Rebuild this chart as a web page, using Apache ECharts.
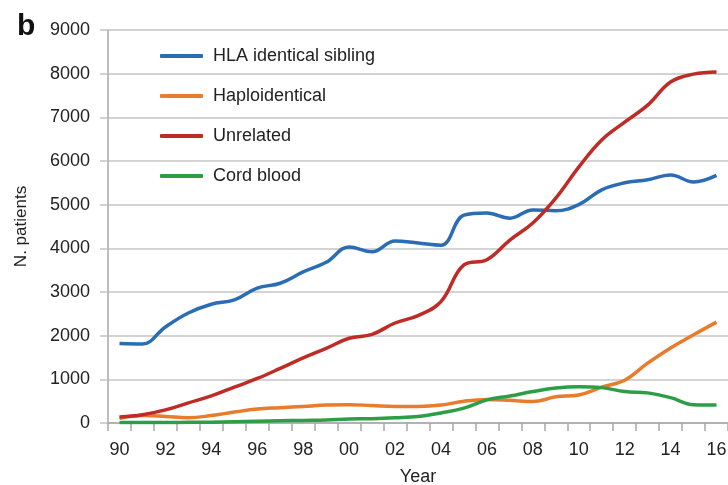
<!DOCTYPE html>
<html>
<head>
<meta charset="utf-8">
<script src="https://cdn.jsdelivr.net/npm/echarts@6/dist/echarts.min.js"></script>
<style>
  html, body { margin: 0; padding: 0; background: #fff; }
  #chart { width: 728px; height: 485px; }
</style>
</head>
<body>
<div id="chart"></div>
<script>
// years 1990..2016 shown as two digits
var years = ["90","91","92","93","94","95","96","97","98","99","00","01","02","03","04","05","06","07","08","09","10","11","12","13","14","15","16"];

var hlaSibling = [1820, 1810, 2200, 2520, 2720, 2820, 3090, 3200, 3460, 3680, 4030, 3920, 4170, 4120, 4070, 4760, 4810, 4690, 4880, 4860, 5000, 5340, 5500, 5570, 5680, 5520, 5670];
var haplo = [110, 170, 150, 120, 170, 250, 320, 350, 380, 410, 420, 400, 380, 380, 410, 500, 540, 520, 490, 600, 640, 820, 980, 1370, 1720, 2020, 2310];
var unrelated = [140, 190, 300, 460, 620, 820, 1020, 1250, 1490, 1710, 1940, 2030, 2290, 2460, 2780, 3620, 3740, 4190, 4580, 5150, 5860, 6480, 6890, 7280, 7810, 7990, 8040];
var cordBlood = [10, 10, 10, 15, 20, 30, 40, 50, 60, 70, 90, 100, 120, 150, 230, 340, 530, 620, 720, 800, 830, 810, 720, 690, 580, 420, 410];

var font = "Liberation Sans";

function mkLine(name, data, color) {
  return {
    name: name,
    type: "line",
    data: data,
    smooth: 0.4,
    symbol: "none",
    lineStyle: { color: color, width: 3.5 },
    itemStyle: { color: color }
  };
}

var chart = echarts.init(document.getElementById("chart"));
chart.setOption({
  animation: false,
  title: {
    text: "b",
    left: 12,
    top: 7,
    textStyle: { fontFamily: font, fontSize: 30, fontWeight: "bold", color: "#111" }
  },
  legend: {
    orient: "vertical",
    left: 155,
    top: 41,
    itemWidth: 43,
    itemHeight: 4,
    itemGap: 20,
    icon: "roundRect",
    textStyle: { fontFamily: font, fontSize: 18, color: "#222", padding: [0, 0, 0, 5], lineHeight: 20 }
  },
  grid: { left: 108, right: 0, top: 30, bottom: 62, outerBoundsMode: "none" },
  xAxis: {
    type: "category",
    data: years,
    boundaryGap: true,
    name: "Year",
    nameLocation: "middle",
    nameGap: 45,
    nameTextStyle: { fontFamily: font, fontSize: 18, color: "#222" },
    axisLine: { lineStyle: { color: "#a8a8a8", width: 1.5 } },
    axisTick: { show: true, interval: 0, length: 8, lineStyle: { color: "#a8a8a8", width: 1.5 } },
    axisLabel: { interval: 1, margin: 18, fontFamily: font, fontSize: 18, color: "#222" },
    splitLine: { show: false }
  },
  yAxis: {
    type: "value",
    min: 0,
    max: 9000,
    interval: 1000,
    name: "N. patients",
    nameLocation: "middle",
    nameGap: 78,
    nameTextStyle: { fontFamily: font, fontSize: 17, color: "#222" },
    axisLine: { show: true, lineStyle: { color: "#a8a8a8", width: 1.5 } },
    axisTick: { show: true, length: 8, lineStyle: { color: "#c4c4c4", width: 1.5 } },
    axisLabel: {
      margin: 18, fontFamily: font, fontSize: 18, color: "#222",
      formatter: function (v) { return String(v); }
    },
    splitLine: { lineStyle: { color: "#c4c4c4", width: 1.5 } }
  },
  series: [
    mkLine("HLA identical sibling", hlaSibling, "#2a6db5"),
    mkLine("Haploidentical", haplo, "#e87b2c"),
    mkLine("Unrelated", unrelated, "#bf2b25"),
    mkLine("Cord blood", cordBlood, "#2e9e46")
  ]
});
</script>
</body>
</html>
